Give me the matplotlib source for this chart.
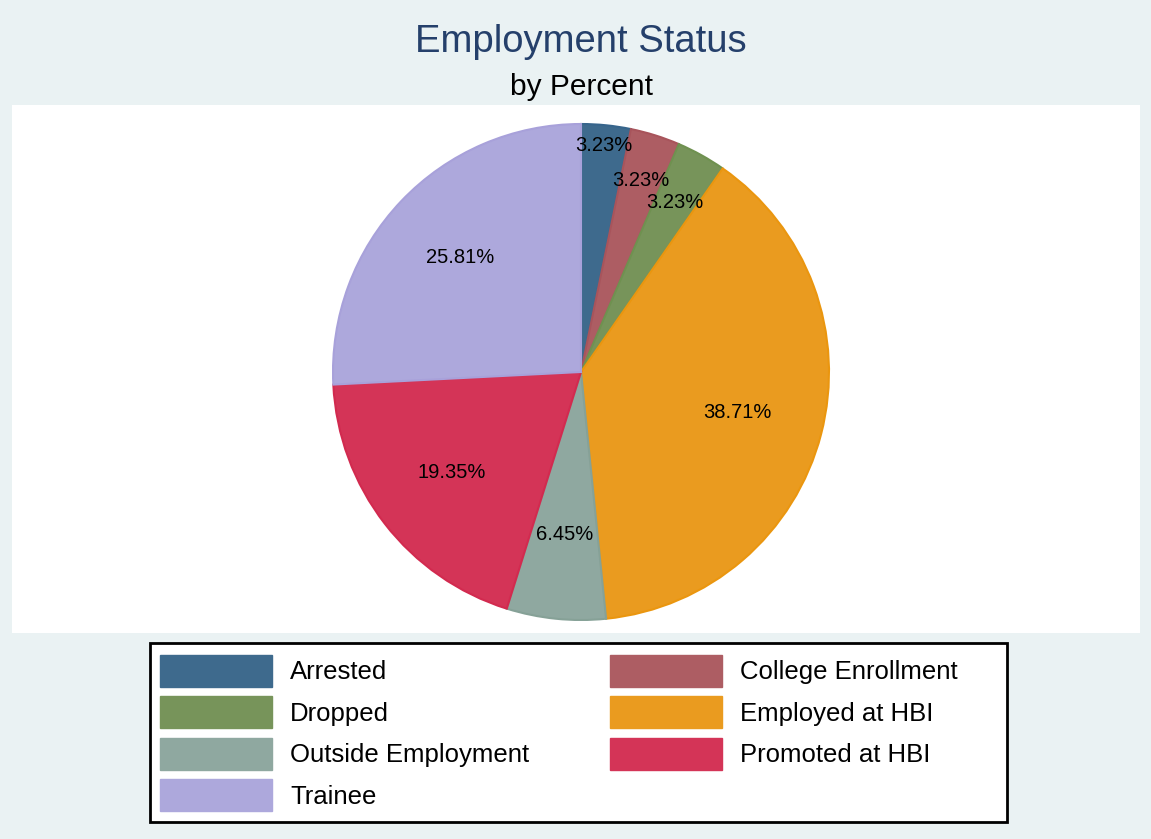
import numpy as np
import matplotlib.pyplot as plt
from matplotlib.patches import Patch, Rectangle

plt.rcParams['font.family'] = ['Liberation Sans', 'DejaVu Sans']

# -----------------------------
# DATA
# -----------------------------
categories = ["Arrested", "College Enrollment", "Dropped", "Employed at HBI",
              "Outside Employment", "Promoted at HBI", "Trainee"]
counts = [1, 1, 1, 12, 2, 6, 8]
colors = ["#3e6a8d", "#ad5d63", "#77945a", "#ea9b1f",
          "#8fa8a0", "#d43457", "#ada8dc"]
edges = ["#37658c", "#a8545b", "#6f9150", "#ea960f",
         "#86a197", "#d22a4f", "#a8a1da"]

# label distance as a fraction of the radius (small slices pushed outward)
lab_r = [0.92, 0.81, 0.78, 0.65, 0.66, 0.66, 0.67]

W, H = 1151, 839
fig = plt.figure(figsize=(W / 100, H / 100), dpi=100)
fig.patch.set_facecolor("#eaf2f3")

# plot region in pixel units (y up)
px0, px1, py_top, py_bot = 12, 1140, 105, 633
ax = fig.add_axes([px0 / W, (H - py_bot) / H, (px1 - px0) / W, (py_bot - py_top) / H])
ax.set_facecolor("white")

cx, cy, R = 581, H - 372, 248
wedges, _ = ax.pie(counts, colors=colors, startangle=90, counterclock=False,
                   center=(cx, cy), radius=R, frame=True,
                   wedgeprops=dict(linewidth=1.5))
for w, ec in zip(wedges, edges):
    w.set_edgecolor(ec)
ax.set_xlim(px0, px1)
ax.set_ylim(H - py_bot, H - py_top)
ax.set_aspect("equal")
ax.set_xticks([])
ax.set_yticks([])
for s in ax.spines.values():
    s.set_visible(False)

total = sum(counts)
cum = 0
for c, r in zip(counts, lab_r):
    mid = (cum + c / 2) / total * 2 * np.pi
    cum += c
    ax.text(cx + r * R * np.sin(mid), cy + r * R * np.cos(mid),
            f"{100 * c / total:.2f}%", ha="center", va="center", fontsize=14.5)

fig.text(581 / W, 1 - 42 / H, "Employment Status", ha="center", va="center",
         fontsize=27.5, color="#25406b")
fig.text(581 / W, 1 - 87 / H, "by Percent", ha="center", va="center",
         fontsize=21.5, color="black")

# legend frame
lx0, lx1, ly0, ly1 = 150, 1007, 643, 822
fig.patches.append(Rectangle((lx0 / W, 1 - ly1 / H), (lx1 - lx0) / W, (ly1 - ly0) / H,
                             transform=fig.transFigure, facecolor="white",
                             edgecolor="black", linewidth=2, zorder=0))

handles = [Patch(facecolor=col, edgecolor=col) for col in colors]
# column-major order: left column Arrested, Dropped, Outside, Trainee
order = [0, 2, 4, 6, 1, 3, 5]
leg = fig.legend([handles[i] for i in order], [categories[i] for i in order],
                 ncol=2, loc="upper left",
                 bbox_to_anchor=(160 / W, 1 - 655 / H),
                 fontsize=18.5, handlelength=4.36, handleheight=1.52,
                 handletextpad=0.7, columnspacing=3.13, labelspacing=0.38,
                 borderpad=0, borderaxespad=0, frameon=False)

fig.savefig("out.png", dpi=100, facecolor=fig.get_facecolor())
